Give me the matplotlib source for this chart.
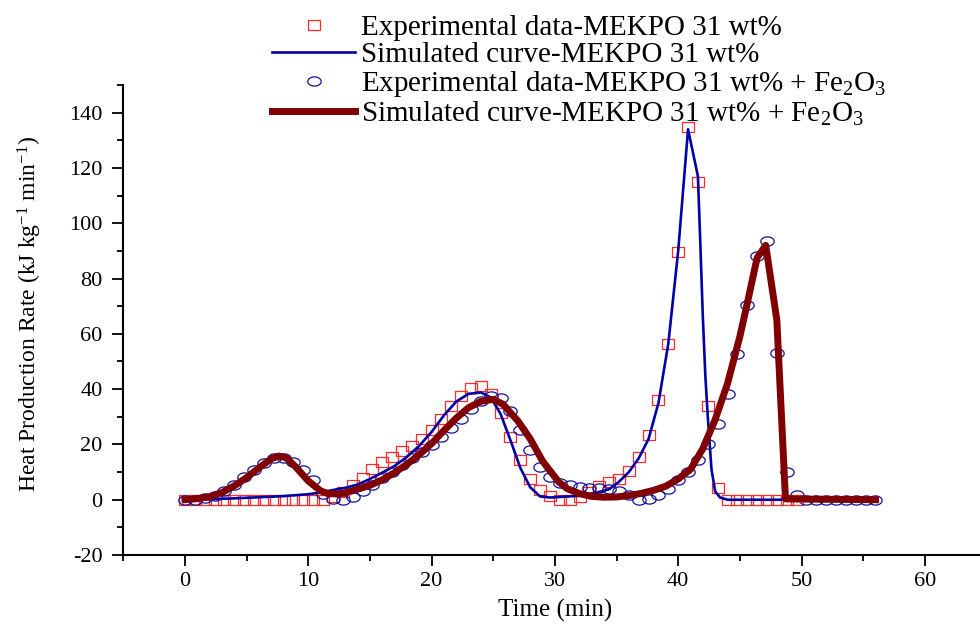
import numpy as np
import matplotlib
matplotlib.use("Agg")
import matplotlib.pyplot as plt
from matplotlib.path import Path
from matplotlib.ticker import MultipleLocator

# ---------------- data ----------------
exp_time = [0.0, 0.8, 1.6, 2.4, 3.2, 4.0, 4.8, 5.6, 6.4, 7.2,
            8.0, 8.8, 9.6, 10.4, 11.2, 12.0, 12.8, 13.6, 14.4, 15.2,
            16.0, 16.8, 17.6, 18.4, 19.2, 20.0, 20.8, 21.6, 22.4, 23.2,
            24.0, 24.8, 25.6, 26.4, 27.2, 28.0, 28.8, 29.6, 30.4, 31.2,
            32.0, 32.8, 33.6, 34.4, 35.2, 36.0, 36.8, 37.6, 38.4, 39.2,
            40.0, 40.8, 41.6, 42.4, 43.2, 44.0, 44.8, 45.6, 46.4, 47.2,
            48.0, 48.8, 49.6, 50.4, 51.2, 52.0, 52.8, 53.6, 54.4, 55.2,
            56.0]

# Experimental data - MEKPO 31 wt% (first 63 time points)
exp_mekpo = [0, 0, 0, 0, 0, 0, 0, 0, 0, 0,
             0, 0, 0, 0, 0, 1.0, 2.8, 5.2, 8.0, 11.2,
             13.5, 15.5, 17.5, 19.5, 22.1, 25.4, 29.3, 33.8, 37.4, 40.3,
             41.0, 38.1, 31.4, 22.7, 14.2, 7.6, 3.6, 1.2, 0, 0,
             1.0, 2.8, 4.8, 6.4, 7.6, 10.5, 15.4, 23.4, 36.0, 56.5,
             89.5, 135.0, 115.0, 34.0, 4.4, 0, 0, 0, 0, 0,
             0, 0, 0]

# Experimental data - MEKPO 31 wt% + Fe2O3
exp_fe = [0, 0, 0.5, 1.5, 3.1, 5.2, 8.2, 10.9, 13.4, 15.2,
          15.2, 13.6, 10.9, 7.0, 2.2, 0.2, 0, 1.0, 3.0, 5.5,
          7.8, 10.2, 12.6, 15.0, 17.3, 19.8, 22.8, 25.8, 29.3, 32.8,
          35.7, 37.4, 36.7, 32.0, 25.4, 18.1, 12.0, 8.3, 6.2, 5.2,
          4.5, 4.3, 4.3, 4.0, 3.1, 1.6, 0, 0.4, 1.6, 4.0,
          7.0, 10.0, 14.2, 20.0, 27.5, 38.4, 52.6, 70.6, 88.2, 93.6,
          52.9, 10.0, 1.6, 0, 0, 0, 0, 0, 0, 0,
          0]

# Simulated curve - MEKPO 31 wt%
sim_mekpo_time = [0, 2, 4, 6, 8, 10, 11, 12, 13, 14,
                  15, 16, 17, 18, 19, 20, 21, 22, 23, 24,
                  24.8, 25.6, 26.4, 27.2, 28.0, 28.8, 29.6, 30.4, 31.2, 32.0,
                  32.8, 33.6, 34.4, 35.2, 36.0, 36.8, 37.6, 38.4, 39.2, 40.0,
                  40.8, 41.6, 41.8, 42.0, 42.2, 42.4, 42.7, 43.0, 43.4, 44.0,
                  49.6]
sim_mekpo = [0, 0.2, 0.5, 0.9, 1.3, 2.0, 2.6, 3.5, 4.3, 5.5,
             7.5, 9.8, 12.2, 15.5, 19.5, 24.5, 30.5, 35.5, 38.3, 38.8,
             37.0, 31.0, 21.5, 11.5, 4.5, 1.2, 0.8, 1.0, 1.2, 1.4,
             1.8, 2.8, 3.8, 6.5, 10.0, 15.0, 22.0, 35.0, 56.5, 90.0,
             134.0, 117.0, 92.0, 66.0, 45.0, 30.0, 11.0, 3.0, 0.8, 0,
             0]

# Simulated curve - MEKPO 31 wt% + Fe2O3
sim_fe_time = [0, 1, 2, 3, 4, 5, 6, 7, 7.6, 8.2,
               9, 10, 11, 11.6, 12.4, 13, 14, 15, 16, 17,
               18, 19, 20, 21, 22, 23, 24, 25, 25.8, 27,
               28, 28.5, 29, 29.6, 30.3, 31, 32, 33, 34, 35,
               36, 37, 38, 39, 40, 41, 42, 43, 44, 45,
               45.6, 46.4, 47.1, 48.0, 48.7, 56.0]
sim_fe = [0, 0.4, 1.1, 2.6, 5.0, 8.0, 11.5, 14.8, 15.8, 15.2,
          11.8, 6.8, 3.2, 2.2, 2.1, 2.5, 3.8, 5.2, 7.2, 9.8,
          12.8, 16.3, 20.3, 25.0, 29.5, 33.3, 35.6, 36.3, 34.5, 28.5,
          22.0, 18.0, 14.0, 10.5, 6.5, 4.0, 2.2, 1.2, 0.9, 1.0,
          1.5, 2.3, 3.4, 4.9, 7.5, 11.0, 18.5, 29.0, 42.0, 59.0,
          71.0, 87.5, 92.0, 65.0, 0.3, 0]

x_ticks = [0, 10, 20, 30, 40, 50, 60]
y_ticks = [-20, 0, 20, 40, 60, 80, 100, 120, 140]

labels = ["Experimental data-MEKPO 31 wt%",
          "Simulated curve-MEKPO 31 wt%",
          r"Experimental data-MEKPO 31 wt% + Fe$_\mathregular{2}$O$_\mathregular{3}$",
          r"Simulated curve-MEKPO 31 wt% + Fe$_\mathregular{2}$O$_\mathregular{3}$"]

# ---------------- style ----------------
plt.rcParams["font.family"] = ["Liberation Serif", "DejaVu Serif"]
plt.rcParams["mathtext.fontset"] = "custom"
plt.rcParams["mathtext.rm"] = "Liberation Serif"
plt.rcParams["mathtext.it"] = "Liberation Serif:italic"
plt.rcParams["mathtext.bf"] = "Liberation Serif:bold"
plt.rcParams["axes.unicode_minus"] = False

fig = plt.figure(figsize=(9.8, 6.28), dpi=100)
ax = fig.add_axes([0.1258, 0.1162, 0.8808, 0.7484])

theta = np.linspace(0, 2 * np.pi, 60)
ellipse_marker = Path(np.column_stack([1.45 * np.cos(theta), np.sin(theta)]), closed=True)
rect_marker = Path([(-1.1, -1), (1.1, -1), (1.1, 1), (-1.1, 1), (-1.1, -1)], closed=True)

n_m = len(exp_mekpo)
ax.plot(exp_time[:n_m], exp_mekpo, linestyle="none", marker=rect_marker,
        markersize=8.6, markerfacecolor="none", markeredgecolor="#ff2a2a",
        markeredgewidth=0.9, label=labels[0], zorder=2)
ax.plot(sim_mekpo_time, sim_mekpo, color="#0000a8", linewidth=1.9,
        label=labels[1], zorder=3)
ax.plot(exp_time, exp_fe, linestyle="none", marker=ellipse_marker,
        markersize=9.6, markerfacecolor="none", markeredgecolor="#10109a",
        markeredgewidth=0.9, label=labels[2], zorder=4)
ax.plot(sim_fe_time, sim_fe, color="#800000", linewidth=5.0,
        solid_joinstyle="round", label=labels[3], zorder=5)

ax.set_xlim(-5, 65)
ax.set_ylim(-20, 150)
ax.set_xticks(x_ticks)
ax.set_yticks(y_ticks)
ax.xaxis.set_minor_locator(MultipleLocator(5))
ax.yaxis.set_minor_locator(MultipleLocator(10))

for s in ["top", "right"]:
    ax.spines[s].set_visible(False)
for s in ["left", "bottom"]:
    ax.spines[s].set_linewidth(1.5)

ax.tick_params(axis="both", which="major", direction="out", length=8,
               width=1.3, labelsize=16)
ax.tick_params(axis="both", which="minor", direction="out", length=4.5,
               width=1.3)
ax.tick_params(axis="x", which="major", pad=4)
ax.tick_params(axis="y", which="major", pad=7)

ax.set_xlabel("Time (min)", fontsize=18, labelpad=6)
ax.set_ylabel(r"Heat Production Rate (kJ kg$^\mathregular{-1}$ min$^\mathregular{-1}$)",
              fontsize=17)
ax.yaxis.set_label_coords(-0.092, 0.513)

leg = ax.legend(loc="upper left", bbox_to_anchor=(272 / 980, 1 - 15 / 628),
                bbox_transform=fig.transFigure, frameon=False, fontsize=21,
                numpoints=1, handlelength=2.85, handletextpad=0.2,
                labelspacing=0.02, borderpad=0, borderaxespad=0)

fig.savefig("out.png", dpi=100)
